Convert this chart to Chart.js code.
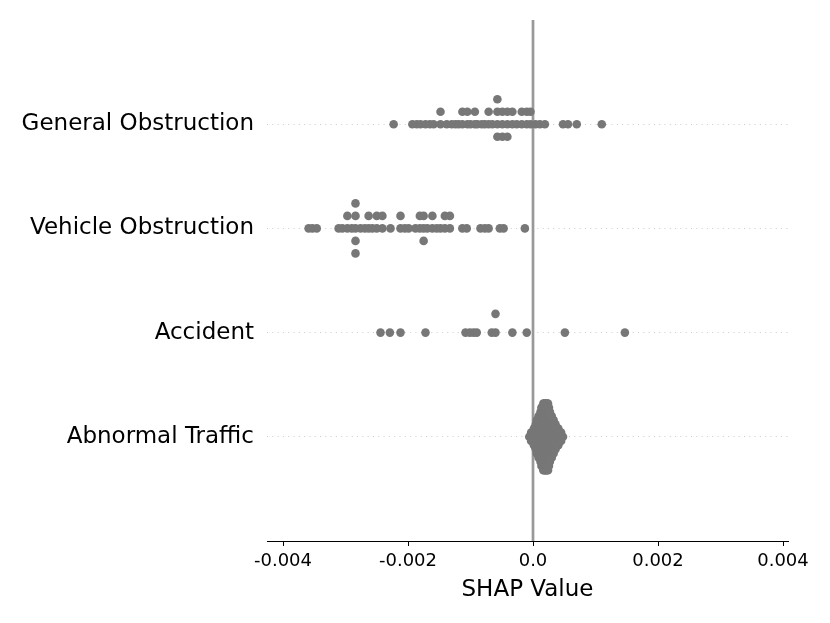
<!DOCTYPE html>
<html>
<head>
<meta charset="utf-8">
<script src="https://cdn.jsdelivr.net/npm/chart.js@4.4.1/dist/chart.umd.min.js"></script>
<style>
  body { margin: 0; background: #fff; }
  #wrap { width: 830px; height: 623px; }
</style>
</head>
<body>
<div id="wrap"><canvas id="shapChart"></canvas></div>
<script>
// feature rows, bottom row first
const features = ["Abnormal Traffic", "Accident", "Vehicle Obstruction", "General Obstruction"];

// SHAP values
const generalValues = [-0.00223, -0.00193, -0.00186, -0.00180, -0.00172, -0.00165, -0.00159, -0.00148, -0.00148,
  -0.00138, -0.00130, -0.00124, -0.00119, -0.00113, -0.00113, -0.00105, -0.00105, -0.00100, -0.00093, -0.00093,
  -0.00089, -0.00082, -0.00077, -0.00071, -0.00071, -0.00065, -0.00057, -0.00057, -0.00057, -0.00057,
  -0.00049, -0.00049, -0.00049, -0.00041, -0.00041, -0.00041, -0.00033, -0.00033, -0.00026, -0.00018, -0.00018,
  -0.00010, -0.00010, -0.00004, -0.00004, 0.00004, 0.00011, 0.00019, 0.00048, 0.00056, 0.00070, 0.00110];

const vehicleValues = [-0.00359, -0.00353, -0.00346, -0.00311, -0.00305, -0.00297, -0.00297, -0.00290,
  -0.00284, -0.00284, -0.00284, -0.00284, -0.00284, -0.00276, -0.00269, -0.00263, -0.00263, -0.00257,
  -0.00250, -0.00250, -0.00241, -0.00241, -0.00228, -0.00212, -0.00212, -0.00205, -0.00199, -0.00188,
  -0.00181, -0.00181, -0.00175, -0.00175, -0.00175, -0.00169, -0.00161, -0.00161, -0.00154, -0.00148,
  -0.00141, -0.00141, -0.00133, -0.00133, -0.00113, -0.00106, -0.00084, -0.00077, -0.00071, -0.00053,
  -0.00047, -0.00013];

const accidentValues = [-0.00244, -0.00229, -0.00212, -0.00172, -0.00108, -0.00101, -0.00095, -0.00090,
  -0.00066, -0.00060, -0.00060, -0.00033, -0.00010, 0.00051, 0.00147];

// abnormal traffic is too dense to list point by point: value + how many points sit there
const abnormalValues = [-0.00006, -0.000045, -0.00003, -0.000015, 0.00000, 0.000015, 0.00003, 0.000045,
  0.00006, 0.000075, 0.00009, 0.000105, 0.00012, 0.000135, 0.00015, 0.000165, 0.00018, 0.000195,
  0.00021, 0.000225, 0.00024, 0.000255, 0.00027, 0.000285, 0.00030, 0.000315, 0.00033, 0.000345,
  0.00036, 0.000375, 0.00039, 0.000405, 0.00042, 0.000435, 0.00045, 0.000465, 0.00048];
const abnormalCounts = [1, 1, 3, 3, 3, 5, 5, 7,
  9, 9, 11, 11, 13, 15, 15, 17, 17, 17,
  17, 17, 17, 15, 13, 11, 11, 9, 9, 7,
  7, 5, 5, 5, 3, 3, 3, 1, 1];

const xTicks = [-0.004, -0.002, 0, 0.002, 0.004];
const xTickLabels = ["-0.004", "-0.002", "0.0", "0.002", "0.004"];
const xMin = -0.004256;
const xMax = 0.00408;

const dotColor = "#777777";
const rowHeight = 0.4;

// expand value/count pairs into single points
const abnormalPoints = [];
abnormalValues.forEach((v, i) => {
  for (let k = 0; k < abnormalCounts[i]; k++) abnormalPoints.push(v);
});

// beeswarm stacking like shap.summary_plot: bin the values, stack points in the same bin
function beeswarm(shaps, pos) {
  const nbins = 100;
  const lo = Math.min(...shaps);
  const hi = Math.max(...shaps);
  const quant = shaps.map(v => Math.round(nbins * (v - lo) / (hi - lo + 1e-8)));
  const inds = shaps.map((_, i) => i).sort((a, b) => quant[a] - quant[b] || a - b);
  const ys = new Array(shaps.length).fill(0);
  let layer = 0;
  let lastBin = -1;
  for (const i of inds) {
    if (quant[i] !== lastBin) layer = 0;
    ys[i] = Math.ceil(layer / 2) * ((layer % 2) * 2 - 1);
    layer++;
    lastBin = quant[i];
  }
  const scale = 0.9 * rowHeight / (Math.max(...ys) + 1);
  return shaps.map((v, i) => ({ x: v, y: pos + ys[i] * scale }));
}

const rows = [abnormalPoints, accidentValues, vehicleValues, generalValues];

Chart.defaults.font.family = "'DejaVu Sans', sans-serif";
Chart.defaults.color = "#000";

const ctx = document.getElementById("shapChart").getContext("2d");
new Chart(ctx, {
  type: "scatter",
  data: {
    datasets: [
      ...rows.map((vals, pos) => ({
        label: features[pos],
        data: beeswarm(vals, pos),
        backgroundColor: dotColor,
        pointRadius: 4.3,
        pointHoverRadius: 4.3,
        borderWidth: 0,
        pointBorderWidth: 0,
        order: 0,
      })),
      {
        type: "line",
        label: "zero",
        data: [{ x: 0, y: -1 }, { x: 0, y: 4 }],
        borderColor: "#999999",
        borderWidth: 2.7,
        pointRadius: 0,
        fill: false,
        order: 1,
      },
    ],
  },
  options: {
    responsive: true,
    maintainAspectRatio: false,
    animation: false,
    layout: { padding: { left: 0, right: 42, top: 20, bottom: 0 } },
    plugins: {
      legend: { display: false },
      tooltip: { enabled: false },
    },
    scales: {
      x: {
        type: "linear",
        min: xMin,
        max: xMax,
        afterFit: s => { s.height = 82; },
        afterBuildTicks: s => { s.ticks = xTicks.map(v => ({ value: v })); },
        border: { display: true, color: "#000", width: 1 },
        grid: { drawOnChartArea: false, drawTicks: true, tickLength: 5, color: "#000", tickColor: "#000" },
        ticks: {
          padding: 5,
          maxRotation: 0,
          autoSkip: false,
          font: { size: 18 },
          callback: (v, i) => xTickLabels[i],
        },
        title: {
          display: true,
          text: "SHAP Value",
          font: { size: 23 },
          padding: { top: 0, bottom: 19 },
        },
      },
      y: {
        type: "linear",
        min: -1,
        max: 4,
        afterFit: s => {
          s.width = 267;
          // labels sit well inside the range, no extra room needed above/below
          s.paddingTop = 0;
          s.paddingBottom = 0;
        },
        afterBuildTicks: s => { s.ticks = features.map((_, i) => ({ value: i })); },
        border: { display: false, dash: [1, 4.3] },
        grid: { drawTicks: false, lineWidth: 1, color: "#cccccc" },
        ticks: {
          padding: 13,
          font: { size: 23 },
          callback: v => features[v],
        },
      },
    },
  },
});
</script>
</body>
</html>
